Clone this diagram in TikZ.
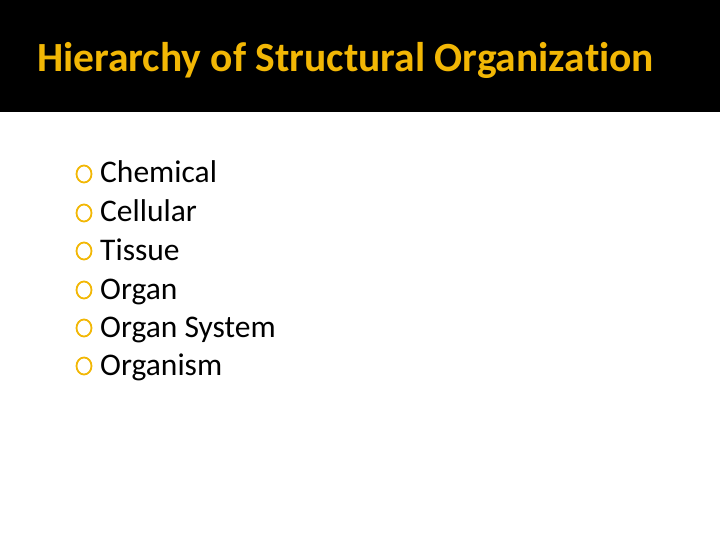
\documentclass[tikz,border=0pt]{standalone}
\usepackage{fontspec}
\setmainfont[Ligatures={NoCommon}]{Carlito}
\usetikzlibrary{shapes.geometric}
\definecolor{gold}{HTML}{F2B705}
\begin{document}
\begin{tikzpicture}[x=1pt,y=-1pt,
  ring/.style={draw=gold,line width=1.8pt,ellipse,minimum width=15pt,minimum height=17pt,inner sep=0pt},
  item/.style={anchor=base west,font=\fontsize{31.5}{33}\selectfont,text=black,inner sep=0pt}]
\useasboundingbox (0,0) rectangle (720,540);
\fill[black] (0,0) rectangle (720,112);
\node[anchor=base west,text=gold,font=\bfseries\fontsize{41.5}{44}\selectfont,inner sep=0pt] (title) at (37,72) {Hierarchy of Structural Organization};
\foreach \t/\y [count=\i] in {Chemical/183,Cellular/222,Tissue/260,Organ/299,Organ System/337,Organism/375}{
  \node[ring] (b\i) at (84,\y-9) {};
  \node[item] (t\i) at (100,\y) {\t};
}
\end{tikzpicture}
\end{document}
